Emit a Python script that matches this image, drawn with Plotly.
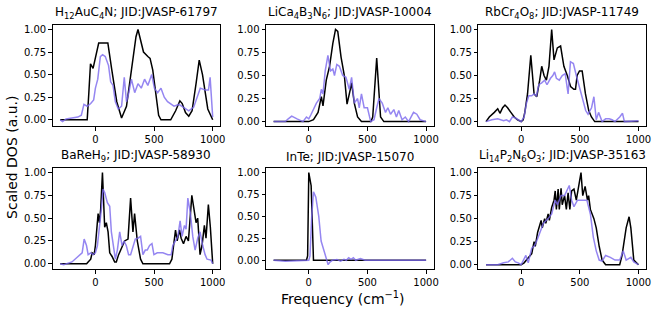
import plotly.graph_objects as go

W, H = 664, 315

titles = [
    "H<sub>12</sub>AuC<sub>4</sub>N; JID:JVASP-61797",
    "LiCa<sub>4</sub>B<sub>3</sub>N<sub>6</sub>; JID:JVASP-10004",
    "RbCr<sub>4</sub>O<sub>8</sub>; JID:JVASP-11749",
    "BaReH<sub>9</sub>; JID:JVASP-58930",
    "InTe; JID:JVASP-15070",
    "Li<sub>14</sub>P<sub>2</sub>N<sub>6</sub>O<sub>3</sub>; JID:JVASP-35163",
]

# Panel 1: H12AuC4N
p1_black_x = [-300, -70, -56, -42, -20, 0, 28, 60, 106, 140, 182, 223, 265, 307, 346, 363, 391, 410, 447, 466, 489, 517, 539, 559, 642, 684, 720, 740, 768, 796, 824, 858, 885, 913, 944, 958, 1000]
p1_black_y = [0, 0.0, 0.3, 0.62, 0.57, 0.7, 0.85, 0.85, 0.85, 0.55, 0.2, 0.02, 0.15, 0.55, 0.92, 1.0, 0.85, 0.75, 0.7, 0.68, 0.55, 0.3, 0.05, 0.0, 0.0, 0.1, 0.21, 0.18, 0.08, 0.04, 0.1, 0.4, 0.66, 0.5, 0.2, 0.12, 0.0]
p1_purple_x = [-300, -280, -250, -200, -150, -120, -98, -70, -40, -15, 0, 20, 42, 61, 84, 112, 130, 150, 170, 195, 223, 246, 265, 285, 307, 335, 363, 391, 419, 447, 480, 503, 531, 559, 587, 615, 642, 670, 712, 754, 796, 838, 866, 894, 936, 964, 978, 1000]
p1_purple_y = [0.0, -0.02, 0.01, 0.02, 0.03, 0.05, 0.17, 0.15, 0.18, 0.22, 0.35, 0.45, 0.7, 0.72, 0.7, 0.6, 0.42, 0.38, 0.2, 0.12, 0.15, 0.47, 0.2, 0.3, 0.45, 0.3, 0.4, 0.35, 0.45, 0.38, 0.5, 0.35, 0.3, 0.35, 0.25, 0.2, 0.18, 0.15, 0.17, 0.13, 0.1, 0.14, 0.25, 0.35, 0.33, 0.33, 0.47, 0.03]

# Panel 2: LiCa4B3N6
p2_black_x = [-300, 0, 40, 79, 107, 121, 149, 177, 205, 228, 247, 275, 303, 326, 354, 365, 388, 416, 449, 530, 545, 579, 612, 640, 1000]
p2_black_y = [0, 0, 0.02, 0.1, 0.27, 0.17, 0.45, 0.6, 0.85, 1.0, 0.98, 0.7, 0.5, 0.19, 0.35, 0.42, 0.2, 0.05, 0.0, 0.0, 0.05, 0.69, 0.05, 0.0, 0.0]
p2_purple_x = [-300, -200, -175, -146, -100, -50, -20, 0, 20, 65, 93, 107, 121, 140, 163, 185, 205, 219, 239, 261, 289, 317, 345, 365, 388, 416, 430, 449, 472, 500, 528, 556, 579, 598, 626, 654, 674, 697, 725, 747, 767, 795, 823, 851, 893, 921, 949, 1000]
p2_purple_y = [0, 0.0, 0.03, 0.06, 0.03, 0.0, 0.05, 0.03, 0.08, 0.2, 0.25, 0.35, 0.3, 0.55, 0.72, 0.55, 0.57, 0.5, 0.62, 0.6, 0.5, 0.48, 0.35, 0.48, 0.2, 0.25, 0.15, 0.3, 0.15, 0.15, 0.0, 0.02, 0.15, 0.25, 0.2, 0.1, 0.15, 0.08, 0.13, 0.05, 0.12, 0.02, 0.05, 0.0, 0.1, 0.08, 0.02, 0.0]

# Panel 3: RbCr4O8
p3_black_x = [-300, -272, -229, -200, -181, -158, -138, -116, -88, -59, -31, 0, 17, 31, 54, 82, 110, 133, 158, 175, 195, 215, 237, 260, 280, 308, 336, 364, 393, 421, 449, 463, 477, 497, 520, 548, 576, 599, 627, 1000]
p3_black_y = [0, 0.05, 0.1, 0.14, 0.09, 0.15, 0.18, 0.15, 0.1, 0.05, 0.02, 0.0, 0.02, 0.1, 0.3, 0.72, 0.3, 0.27, 0.45, 0.6, 0.5, 0.45, 0.6, 1.0, 0.67, 0.8, 0.82, 0.6, 0.5, 0.38, 0.35, 0.35, 0.5, 0.55, 0.55, 0.3, 0.12, 0.05, 0.0, 0.0]
p3_purple_x = [-300, -250, -200, -150, -125, -100, -75, -50, -25, 0, 25, 45, 65, 90, 110, 130, 150, 175, 200, 220, 250, 270, 285, 300, 325, 350, 375, 400, 420, 445, 470, 490, 520, 550, 570, 600, 620, 640, 660, 690, 720, 750, 775, 800, 840, 864, 880, 1000]
p3_purple_y = [0, 0.02, 0.03, 0.01, 0.02, 0.0, 0.05, 0.04, 0.02, 0.0, 0.05, 0.2, 0.28, 0.28, 0.3, 0.28, 0.4, 0.42, 0.45, 0.4, 0.47, 0.5, 0.54, 0.47, 0.45, 0.5, 0.52, 0.3, 0.65, 0.63, 0.5, 0.4, 0.25, 0.12, 0.08, 0.15, 0.27, 0.02, 0.1, 0.0, 0.03, 0.03, 0.02, 0.0, 0.05, 0.09, 0.0, 0.01]

# Panel 4: BaReH9
p4_black_x = [-300, -75, -62, -40, -28, -11, 0, 11, 23, 34, 45, 60, 71, 79, 93, 108, 122, 142, 164, 178, 198, 215, 235, 249, 278, 300, 320, 334, 357, 385, 405, 632, 652, 669, 683, 697, 717, 731, 751, 773, 793, 822, 839, 858, 872, 892, 909, 929, 943, 963, 980, 1000]
p4_black_y = [0, 0, 0.02, 0.05, 0.12, 0.1, 0.2, 0.35, 0.55, 0.45, 0.6, 1.0, 0.7, 0.4, 0.45, 0.35, 0.12, 0.08, 0.02, 0.02, 0.1, 0.15, 0.2, 0.25, 0.27, 0.72, 0.35, 0.55, 0.25, 0.05, 0.0, 0.0, 0.05, 0.2, 0.37, 0.25, 0.37, 0.28, 0.22, 0.3, 0.25, 0.75, 0.6, 0.45, 0.5, 0.1, 0.2, 0.42, 0.28, 0.65, 0.4, 0.0]
p4_purple_x = [-300, -270, -200, -160, -133, -113, -96, -76, -62, -40, -20, 0, 17, 37, 51, 65, 79, 102, 122, 136, 150, 170, 187, 207, 227, 244, 263, 283, 300, 320, 340, 363, 385, 405, 425, 442, 462, 482, 499, 527, 575, 618, 646, 660, 680, 703, 722, 739, 759, 773, 788, 810, 830, 850, 872, 892, 915, 935, 952, 986, 1000]
p4_purple_y = [0, -0.01, 0.02, 0.07, 0.1, 0.12, 0.27, 0.2, 0.1, 0.12, 0.1, 0.12, 0.2, 0.4, 0.6, 0.82, 0.78, 0.67, 0.63, 0.35, 0.2, 0.05, 0.15, 0.35, 0.2, 0.25, 0.2, 0.1, 0.1, 0.2, 0.27, 0.28, 0.3, 0.1, 0.15, 0.15, 0.2, 0.22, 0.1, 0.12, 0.12, 0.1, 0.1, 0.2, 0.25, 0.3, 0.47, 0.3, 0.42, 0.38, 0.72, 0.55, 0.3, 0.15, 0.28, 0.35, 0.2, 0.1, 0.05, 0.04, 0.0]

# Panel 5: InTe
p5_black_x = [-300, -20, -10, 0, 20, 40, 1000]
p5_black_y = [0, 0, 0.05, 1.0, 0.85, 0.0, 0.0]
p5_purple_x = [-300, -200, 0, 10, 25, 40, 60, 85, 105, 130, 165, 180, 200, 240, 270, 300, 320, 340, 360, 380, 400, 440, 480, 1000]
p5_purple_y = [0, -0.01, 0.0, 0.05, 0.5, 0.78, 0.72, 0.5, 0.22, 0.1, -0.05, -0.02, 0.0, 0.01, -0.01, 0.01, 0.0, 0.03, 0.01, 0.03, 0.0, 0.02, 0.0, 0.0]

# Panel 6: Li14P2N6O3
p6_black_x = [-300, 0, 25, 60, 90, 110, 120, 140, 170, 180, 200, 210, 230, 240, 260, 280, 290, 300, 315, 325, 340, 350, 370, 385, 400, 415, 430, 450, 470, 510, 525, 545, 565, 575, 590, 620, 640, 665, 690, 720, 840, 860, 895, 920, 935, 960, 1000]
p6_black_y = [0, 0, 0.02, 0.07, 0.12, 0.25, 0.2, 0.35, 0.48, 0.4, 0.5, 0.45, 0.55, 0.48, 0.62, 0.7, 0.8, 0.6, 0.82, 0.6, 0.83, 0.65, 0.75, 0.6, 0.78, 0.6, 0.8, 0.82, 0.7, 1.0, 0.75, 0.85, 0.7, 0.75, 0.6, 0.5, 0.4, 0.2, 0.05, 0.0, 0.0, 0.1, 0.4, 0.52, 0.4, 0.05, 0.0]
p6_purple_x = [-300, -200, -150, -110, -75, -50, -25, 0, 40, 60, 90, 110, 130, 160, 190, 230, 260, 290, 310, 340, 370, 410, 430, 450, 480, 530, 560, 590, 615, 640, 665, 690, 720, 760, 800, 840, 870, 895, 935, 960, 1000]
p6_purple_y = [0, 0, 0.02, 0.03, 0.07, 0.03, 0.02, 0.0, 0.1, 0.02, 0.18, 0.2, 0.25, 0.35, 0.45, 0.5, 0.55, 0.7, 0.65, 0.75, 0.75, 0.86, 0.7, 0.63, 0.7, 0.7, 0.7, 0.55, 0.3, 0.15, 0.05, 0.04, 0.1, 0.08, 0.05, 0.05, 0.15, 0.05, 0.08, 0.03, 0.0]

panels = [
    (p1_black_x, p1_black_y, p1_purple_x, p1_purple_y),
    (p2_black_x, p2_black_y, p2_purple_x, p2_purple_y),
    (p3_black_x, p3_black_y, p3_purple_x, p3_purple_y),
    (p4_black_x, p4_black_y, p4_purple_x, p4_purple_y),
    (p5_black_x, p5_black_y, p5_purple_x, p5_purple_y),
    (p6_black_x, p6_black_y, p6_purple_x, p6_purple_y),
]

x_tickvals = [0, 500, 1000]
y_tickvals = [0, 0.25, 0.5, 0.75, 1.0]
y_ticktext = ["0.00", "0.25", "0.50", "0.75", "1.00"]

col_px = [(53, 222), (268, 437), (482, 651)]
row_px = [(24, 126), (168, 270)]

BLACK_C = "#000000"
PURPLE_C = "rgba(123,104,238,0.8)"
FONT = "DejaVu Sans"

fig = go.Figure()
annotations = []
for i, (bx, by, px, py) in enumerate(panels):
    r, c = divmod(i, 3)
    n = i + 1
    xa = "x" if n == 1 else f"x{n}"
    ya = "y" if n == 1 else f"y{n}"
    fig.add_trace(go.Scatter(x=bx, y=by, mode="lines", line=dict(color=BLACK_C, width=1.5),
                             xaxis=xa, yaxis=ya, showlegend=False))
    fig.add_trace(go.Scatter(x=px, y=py, mode="lines", line=dict(color=PURPLE_C, width=1.5),
                             xaxis=xa, yaxis=ya, showlegend=False))
    allx = bx + px
    ally = by + py
    xmin, xmax = min(allx), max(allx)
    ymin, ymax = min(ally), max(ally)
    dx = (xmax - xmin) * 0.05
    dy = (ymax - ymin) * 0.05
    x0, x1 = col_px[c]
    t0, t1 = row_px[r]
    xdom = [x0 / W, x1 / W]
    ydom = [1 - t1 / H, 1 - t0 / H]
    axcommon = dict(showline=True, mirror=True, linecolor="black", linewidth=0.8,
                    ticks="outside", ticklen=3.5, tickwidth=0.8, tickcolor="black",
                    showgrid=False, zeroline=False,
                    tickfont=dict(family=FONT, size=10, color="black"))
    fig.layout[f"xaxis{'' if n == 1 else n}"] = dict(
        domain=xdom, range=[xmin - dx, xmax + dx], anchor=ya,
        tickvals=x_tickvals, ticktext=[str(v) for v in x_tickvals], **axcommon)
    fig.layout[f"yaxis{'' if n == 1 else n}"] = dict(
        domain=ydom, range=[ymin - dy, ymax + dy], anchor=xa,
        tickvals=y_tickvals, ticktext=y_ticktext, **axcommon)
    annotations.append(dict(text=titles[i], xref="paper", yref="paper",
                            x=(xdom[0] + xdom[1]) / 2, y=ydom[1], xanchor="center",
                            yanchor="bottom", yshift=2, showarrow=False,
                            font=dict(family=FONT, size=12, color="black")))

annotations.append(dict(text="Scaled DOS (a.u.)", xref="paper", yref="paper",
                        x=12 / W, y=1 - 157 / H, xanchor="center", yanchor="middle",
                        textangle=-90, showarrow=False,
                        font=dict(family=FONT, size=14, color="black")))
annotations.append(dict(text="Frequency (cm<sup>\u22121</sup>)", xref="paper", yref="paper",
                        x=346 / W, y=1 - 299 / H, xanchor="center", yanchor="middle",
                        showarrow=False, font=dict(family=FONT, size=14, color="black")))

fig.update_layout(width=W, height=H, margin=dict(l=0, r=0, t=0, b=0),
                  paper_bgcolor="white", plot_bgcolor="white",
                  annotations=annotations, font=dict(family=FONT))

fig.write_html("out.html", config={"displayModeBar": False},
               post_script="document.body.style.margin='0';document.body.style.padding='0';")
